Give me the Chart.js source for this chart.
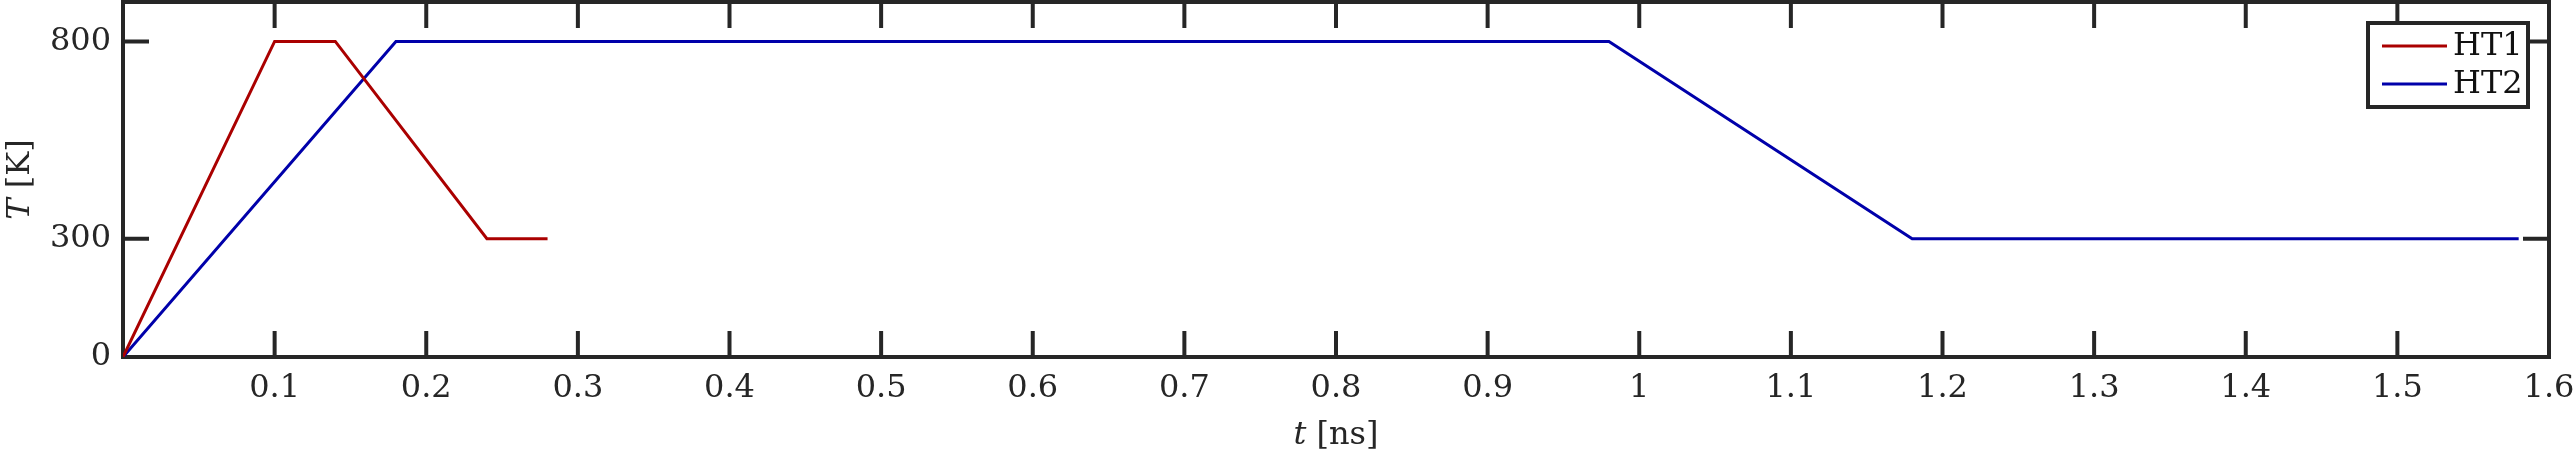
<!DOCTYPE html>
<html>
<head>
<meta charset="utf-8">
<script src="https://cdn.jsdelivr.net/npm/chart.js@4.4.1/dist/chart.umd.min.js"></script>
<style>
html,body{margin:0;padding:0;background:#fff;}
#wrap{width:2575px;height:453px;position:relative;}
</style>
</head>
<body>
<div id="wrap"><canvas id="c"></canvas></div>
<script>
// ---- data ----
const ht1Time = [0, 0.1, 0.14, 0.24, 0.28];
const ht1Temp = [0, 800, 800, 300, 300];
const ht2Time = [0, 0.18, 0.98, 1.18, 1.58];
const ht2Temp = [0, 800, 800, 300, 300];
const seriesNames = ['HT1', 'HT2'];
const xTicks = [0.1, 0.2, 0.3, 0.4, 0.5, 0.6, 0.7, 0.8, 0.9, 1, 1.1, 1.2, 1.3, 1.4, 1.5, 1.6];
const yTicks = [0, 300, 800];

const INK = '#262626';
const FONT = 'DejaVu Serif';

function pts(xs, ys){ return xs.map((x,i)=>({x:x, y:ys[i]})); }

function zeroPad(s){ s.paddingTop = 0; s.paddingBottom = 0; s.paddingLeft = 0; s.paddingRight = 0; }

const framePlugin = {
  id: 'frame',
  beforeDatasetsDraw(chart){
    const {ctx, chartArea:a, scales} = chart;
    ctx.save();
    ctx.strokeStyle = INK;
    ctx.lineWidth = 4;
    ctx.strokeRect(a.left, a.top, a.right - a.left, a.bottom - a.top);
    const L = 26;
    ctx.beginPath();
    scales.x.ticks.forEach(t=>{
      const px = scales.x.getPixelForValue(t.value);
      ctx.moveTo(px, a.bottom); ctx.lineTo(px, a.bottom - L);
      ctx.moveTo(px, a.top); ctx.lineTo(px, a.top + L);
    });
    scales.y.ticks.forEach(t=>{
      const py = scales.y.getPixelForValue(t.value);
      ctx.moveTo(a.left, py); ctx.lineTo(a.left + L, py);
      ctx.moveTo(a.right, py); ctx.lineTo(a.right - L, py);
    });
    ctx.stroke();
    ctx.restore();
  },
  afterDraw(chart){
    const {ctx, chartArea:a} = chart;
    ctx.save();
    ctx.fillStyle = INK;
    ctx.textBaseline = 'alphabetic';
    // x title
    const cx = (a.left + a.right)/2;
    ctx.font = 'italic 32px "' + FONT + '"';
    const tW = ctx.measureText('t').width;
    ctx.font = '32px "' + FONT + '"';
    const rW = ctx.measureText(' [ns]').width;
    let sx = cx - (tW + rW)/2;
    ctx.textAlign = 'left';
    ctx.font = 'italic 32px "' + FONT + '"';
    ctx.fillText('t', sx, 444);
    ctx.font = '32px "' + FONT + '"';
    ctx.fillText(' [ns]', sx + tW, 444);
    // y title
    const cy = (a.top + a.bottom)/2;
    ctx.translate(29, cy);
    ctx.rotate(-Math.PI/2);
    ctx.font = 'italic 32px "' + FONT + '"';
    const TW = ctx.measureText('T').width;
    ctx.font = '32px "' + FONT + '"';
    const KW = ctx.measureText(' [K]').width;
    const s2 = -(TW + KW)/2;
    ctx.font = 'italic 32px "' + FONT + '"';
    ctx.fillText('T', s2, 0);
    ctx.font = '32px "' + FONT + '"';
    ctx.fillText(' [K]', s2 + TW, 0);
    ctx.restore();

    // legend
    ctx.save();
    const bx2 = a.right - 21, by1 = a.top + 21;
    const bx1 = bx2 - 160, by2 = by1 + 84;
    ctx.fillStyle = '#fff';
    ctx.fillRect(bx1, by1, bx2 - bx1, by2 - by1);
    ctx.strokeStyle = INK;
    ctx.lineWidth = 4;
    ctx.strokeRect(bx1, by1, bx2 - bx1, by2 - by1);
    chart.data.datasets.forEach((ds, i)=>{
      const y = by1 + 23 + i*38;
      ctx.strokeStyle = ds.borderColor;
      ctx.lineWidth = 3;
      ctx.beginPath();
      ctx.moveTo(bx1 + 14, y); ctx.lineTo(bx1 + 79, y);
      ctx.stroke();
      ctx.fillStyle = '#111';
      ctx.font = '32px "' + FONT + '"';
      ctx.textAlign = 'left';
      ctx.textBaseline = 'middle';
      ctx.fillText(ds.label, bx1 + 85, y + 1);
    });
    ctx.restore();
  }
};

new Chart(document.getElementById('c'), {
  type: 'scatter',
  data: {
    datasets: [
      {label: seriesNames[0], data: pts(ht1Time, ht1Temp), showLine: true, borderColor: '#aa0000', borderWidth: 3, pointRadius: 0, fill: false, tension: 0},
      {label: seriesNames[1], data: pts(ht2Time, ht2Temp), showLine: true, borderColor: '#0000aa', borderWidth: 3, pointRadius: 0, fill: false, tension: 0}
    ]
  },
  options: {
    responsive: true,
    maintainAspectRatio: false,
    animation: false,
    layout: {padding: {top: 2, right: 26, left: 0, bottom: 0}},
    plugins: {legend: {display: false}, tooltip: {enabled: false}},
    scales: {
      x: {
        type: 'linear', min: 0, max: 1.6,
        grid: {display: false, drawTicks: false},
        border: {display: false},
        afterBuildTicks(s){ s.ticks = xTicks.map(v=>({value: v})); },
        afterFit(s){ s.height = 96; zeroPad(s); },
        ticks: {
          color: INK, padding: 12, maxRotation: 0, autoSkip: false,
          font: {family: FONT, size: 32},
          callback: v => String(+Number(v).toFixed(1))
        }
      },
      y: {
        type: 'linear', min: 0, max: 900,
        grid: {display: false, drawTicks: false},
        border: {display: false},
        afterBuildTicks(s){ s.ticks = yTicks.map(v=>({value: v})); },
        afterFit(s){ s.width = 123; zeroPad(s); },
        ticks: {
          color: INK, padding: 12, autoSkip: false,
          font: {family: FONT, size: 32},
          callback: v => String(v)
        }
      }
    }
  },
  plugins: [framePlugin]
});
</script>
</body>
</html>
